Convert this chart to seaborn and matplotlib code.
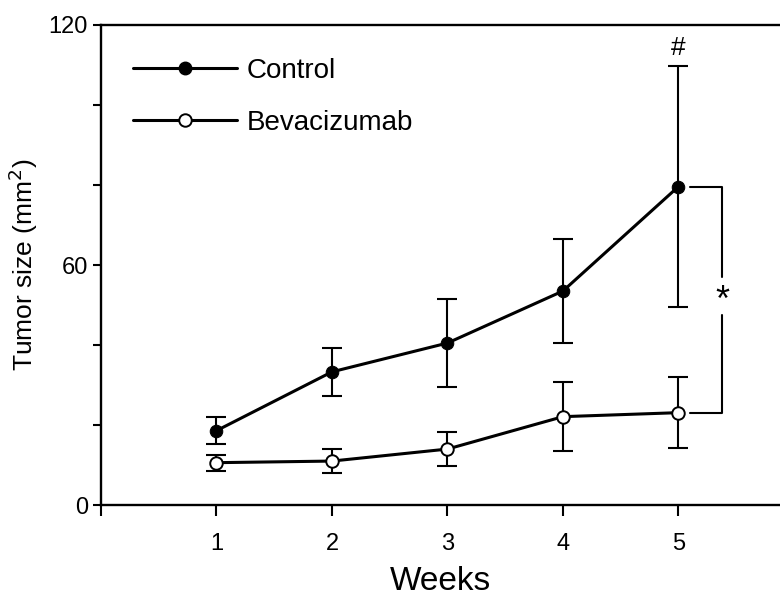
import matplotlib
matplotlib.use("Agg")
import matplotlib.pyplot as plt
import seaborn as sns
import pandas as pd
import numpy as np
from matplotlib.lines import Line2D

weeks = [1, 2, 3, 4, 5]
control_mean = [18.6, 33.3, 40.5, 53.5, 79.6]
control_err = [3.4, 6.0, 10.9, 12.9, 30.2]
beva_mean = [10.6, 11.0, 14.0, 22.1, 23.1]
beva_err = [2.0, 3.0, 4.2, 8.7, 8.9]
groups = ["Control", "Bevacizumab"]

sns.set_style("ticks")
plt.rcParams['font.family'] = ['Liberation Sans', 'DejaVu Sans']
plt.rcParams['text.color'] = 'black'
plt.rcParams['axes.labelcolor'] = 'black'

df = pd.DataFrame({
    "Weeks": weeks * 2,
    "Size": control_mean + beva_mean,
    "Group": [groups[0]] * 5 + [groups[1]] * 5,
})

fig = plt.figure(figsize=(7.8, 6.02), dpi=100)
ax = fig.add_axes([0.1295, 0.161, 0.8705, 0.7975])

ax.errorbar(weeks, control_mean, yerr=control_err, fmt='none', ecolor='black',
            elinewidth=1.5, capsize=7, capthick=1.5, zorder=2)
ax.errorbar(weeks, beva_mean, yerr=beva_err, fmt='none', ecolor='black',
            elinewidth=1.5, capsize=7, capthick=1.5, zorder=2)

sns.lineplot(data=df, x="Weeks", y="Size", hue="Group", style="Group",
             palette={"Control": "black", "Bevacizumab": "black"},
             markers={"Control": "o", "Bevacizumab": "o"},
             dashes=False, linewidth=2.2, markersize=9, ax=ax, zorder=3,
             legend=False)
lines = ax.get_lines()
lines[-2].set_markerfacecolor('black'); lines[-2].set_markeredgecolor('black')
lines[-1].set_markerfacecolor('white'); lines[-1].set_markeredgecolor('black')
lines[-1].set_markeredgewidth(1.4)

handles = [Line2D([], [], color='black', lw=2.2, marker='o', markersize=9,
                  markerfacecolor='black', markeredgecolor='black'),
           Line2D([], [], color='black', lw=2.2, marker='o', markersize=9,
                  markerfacecolor='white', markeredgecolor='black', markeredgewidth=1.4)]
ax.legend(handles, groups, loc='upper left', bbox_to_anchor=(0.031, 0.955), frameon=False,
          fontsize=20, handlelength=3.75, labelspacing=0.95, handletextpad=0.35, borderaxespad=0)

# significance bracket
x5 = weeks[-1]
yc = control_mean[-1]
yb = beva_mean[-1]
xb0 = x5 + 0.1
xb1 = x5 + 0.38
ax.plot([xb0, xb1, xb1], [yc, yc, 57], color='black', lw=1.5, clip_on=False)
ax.plot([xb1, xb1, xb0], [47.5, yb, yb], color='black', lw=1.5, clip_on=False)
ax.text(xb1, 51.0, "*", ha='center', va='center', fontsize=26)
ax.text(x5, control_mean[-1] + control_err[-1] + 1.5, "#", ha='center', va='bottom', fontsize=19)

ax.set_xlim(0, 5.88)
ax.set_ylim(0, 120)
ax.set_xticks([0] + weeks)
ax.set_xticklabels([""] + [str(w) for w in weeks])
ax.set_yticks(np.arange(0, 121, 20))
ax.set_yticklabels(["0", "", "", "60", "", "", "120"])
ax.tick_params(axis='both', labelsize=17, width=1.5, length=6, direction='out',
               colors='black', labelcolor='black')
ax.tick_params(axis='x', pad=12, length=8)
ax.set_xlabel("Weeks", fontsize=24, labelpad=8)
ax.set_ylabel("Tumor size (mm$^{2}$)", fontsize=19, labelpad=6)

for s in ['left', 'bottom', 'top']:
    ax.spines[s].set_linewidth(1.7)
    ax.spines[s].set_color('black')
ax.spines['right'].set_visible(False)

fig.savefig("out.png", dpi=100)
